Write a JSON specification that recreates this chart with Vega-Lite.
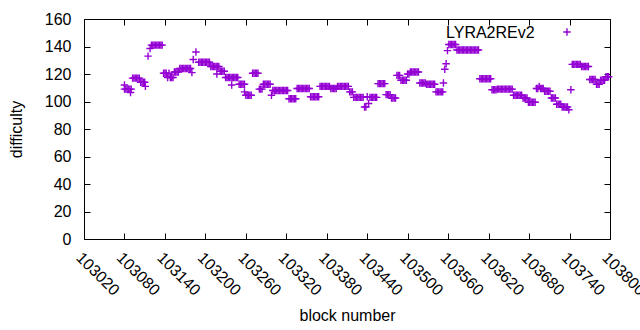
{
"$schema": "https://vega.github.io/schema/vega-lite/v6.json",
"width": 526, "height": 220,
"autosize": {"type": "none"},
"padding": {"left": 84, "top": 19, "right": 30, "bottom": 91},
"background": "white",
"config": {"font": "Liberation Sans", "view": {"stroke": "black", "strokeWidth": 1}},
"data": {"values": [
{"block":103080,"diff":112},{"block":103080,"diff":109},{"block":103082,"diff":109},{"block":103084,"diff":109},{"block":103086,"diff":109},{"block":103088,"diff":109},{"block":103090,"diff":109},{"block":103089,"diff":106.5},
{"block":103092,"diff":117},{"block":103094,"diff":117},{"block":103096,"diff":117},{"block":103098,"diff":117},{"block":103100,"diff":117},{"block":103102,"diff":117},
{"block":103104,"diff":114},{"block":103106,"diff":114},{"block":103108,"diff":114},{"block":103110,"diff":114},{"block":103111,"diff":111},{"block":103115,"diff":133},{"block":103118,"diff":138.5},
{"block":103120,"diff":141},{"block":103122,"diff":141},{"block":103124,"diff":141},{"block":103126,"diff":141},{"block":103128,"diff":141},{"block":103130,"diff":141},{"block":103132,"diff":141},{"block":103134,"diff":141},{"block":103136,"diff":141},
{"block":103138,"diff":120.5},{"block":103140,"diff":120.5},{"block":103142,"diff":120.5},{"block":103146,"diff":120.5},
{"block":103144,"diff":117.5},{"block":103148,"diff":117.5},{"block":103150,"diff":117.5},{"block":103152,"diff":117.5},
{"block":103154,"diff":121.5},{"block":103156,"diff":121.5},{"block":103158,"diff":121.5},{"block":103160,"diff":121.5},
{"block":103162,"diff":124},{"block":103164,"diff":124},{"block":103166,"diff":124},{"block":103168,"diff":124},{"block":103170,"diff":124},{"block":103172,"diff":124},{"block":103174,"diff":124},{"block":103176,"diff":124},{"block":103178,"diff":124},
{"block":103180,"diff":121},{"block":103182,"diff":130.5},{"block":103186,"diff":136},
{"block":103190,"diff":128.5},{"block":103192,"diff":128.5},{"block":103194,"diff":128.5},{"block":103196,"diff":128.5},{"block":103198,"diff":128.5},{"block":103200,"diff":128.5},{"block":103202,"diff":128.5},{"block":103204,"diff":128.5},{"block":103206,"diff":128.5},
{"block":103208,"diff":125.5},{"block":103210,"diff":125.5},{"block":103212,"diff":125.5},{"block":103214,"diff":125.5},{"block":103216,"diff":125.5},{"block":103218,"diff":125.5},{"block":103220,"diff":125.5},{"block":103217,"diff":120},
{"block":103222,"diff":122},{"block":103224,"diff":122},{"block":103226,"diff":122},{"block":103228,"diff":122},
{"block":103230,"diff":117.5},{"block":103232,"diff":117.5},{"block":103234,"diff":117.5},{"block":103236,"diff":117.5},{"block":103238,"diff":117.5},{"block":103239,"diff":112},
{"block":103240,"diff":117.5},{"block":103242,"diff":117.5},{"block":103244,"diff":117.5},{"block":103246,"diff":117.5},{"block":103248,"diff":117.5},
{"block":103250,"diff":112.5},{"block":103252,"diff":112.5},{"block":103254,"diff":112.5},{"block":103256,"diff":112.5},{"block":103258,"diff":112.5},{"block":103258,"diff":107},
{"block":103260,"diff":104.5},{"block":103262,"diff":104.5},{"block":103264,"diff":104.5},{"block":103266,"diff":104.5},{"block":103268,"diff":104.5},
{"block":103270,"diff":120.5},{"block":103272,"diff":120.5},{"block":103274,"diff":120.5},{"block":103276,"diff":120.5},{"block":103278,"diff":120.5},
{"block":103280,"diff":109},{"block":103282,"diff":109},{"block":103284,"diff":109},
{"block":103286,"diff":112.5},{"block":103288,"diff":112.5},{"block":103290,"diff":112.5},{"block":103292,"diff":112.5},{"block":103294,"diff":112.5},{"block":103296,"diff":112.5},
{"block":103298,"diff":104.5},
{"block":103300,"diff":108},{"block":103302,"diff":108},{"block":103304,"diff":108},{"block":103306,"diff":108},{"block":103308,"diff":108},{"block":103310,"diff":108},{"block":103312,"diff":108},{"block":103314,"diff":108},{"block":103316,"diff":108},{"block":103318,"diff":108},{"block":103320,"diff":108},{"block":103322,"diff":108},
{"block":103324,"diff":102},{"block":103326,"diff":102},{"block":103328,"diff":102},{"block":103330,"diff":102},{"block":103332,"diff":102},{"block":103334,"diff":102},
{"block":103336,"diff":109.5},{"block":103338,"diff":109.5},{"block":103340,"diff":109.5},{"block":103342,"diff":109.5},{"block":103344,"diff":109.5},{"block":103346,"diff":109.5},{"block":103348,"diff":109.5},{"block":103350,"diff":109.5},{"block":103352,"diff":109.5},{"block":103354,"diff":109.5},
{"block":103356,"diff":103.5},{"block":103358,"diff":103.5},{"block":103360,"diff":103.5},{"block":103362,"diff":103.5},{"block":103364,"diff":103.5},{"block":103366,"diff":103.5},{"block":103368,"diff":103.5},
{"block":103370,"diff":111},{"block":103372,"diff":111},{"block":103374,"diff":111},{"block":103376,"diff":111},{"block":103378,"diff":111},{"block":103380,"diff":111},{"block":103382,"diff":111},{"block":103384,"diff":111},
{"block":103386,"diff":109.5},{"block":103388,"diff":109.5},{"block":103390,"diff":109.5},{"block":103392,"diff":109.5},{"block":103394,"diff":109.5},
{"block":103396,"diff":111},{"block":103398,"diff":111},{"block":103400,"diff":111},{"block":103402,"diff":111},{"block":103404,"diff":111},{"block":103406,"diff":111},{"block":103408,"diff":111},{"block":103410,"diff":111},{"block":103412,"diff":111},
{"block":103414,"diff":107},{"block":103416,"diff":107},{"block":103418,"diff":107},
{"block":103420,"diff":103},{"block":103422,"diff":103},{"block":103424,"diff":103},{"block":103426,"diff":103},{"block":103428,"diff":103},{"block":103430,"diff":103},{"block":103432,"diff":103},{"block":103434,"diff":103},
{"block":103436,"diff":96},{"block":103438,"diff":96},{"block":103440,"diff":103.5},{"block":103442,"diff":98.5},
{"block":103444,"diff":103},{"block":103446,"diff":103},{"block":103448,"diff":103},{"block":103450,"diff":103},{"block":103452,"diff":103},{"block":103454,"diff":103},
{"block":103456,"diff":113},{"block":103458,"diff":113},{"block":103460,"diff":113},{"block":103462,"diff":113},{"block":103464,"diff":113},{"block":103466,"diff":113},
{"block":103468,"diff":105},{"block":103470,"diff":105},{"block":103472,"diff":105},{"block":103474,"diff":105},
{"block":103476,"diff":102.5},{"block":103478,"diff":102.5},{"block":103480,"diff":102.5},{"block":103482,"diff":102.5},
{"block":103484,"diff":119},{"block":103486,"diff":119},{"block":103488,"diff":119},
{"block":103490,"diff":115.5},{"block":103492,"diff":115.5},{"block":103494,"diff":115.5},{"block":103496,"diff":115.5},{"block":103498,"diff":115.5},
{"block":103500,"diff":120},{"block":103502,"diff":120},
{"block":103504,"diff":121.5},{"block":103506,"diff":121.5},{"block":103508,"diff":121.5},{"block":103510,"diff":121.5},{"block":103512,"diff":121.5},{"block":103514,"diff":121.5},{"block":103516,"diff":121.5},
{"block":103518,"diff":113.5},{"block":103520,"diff":113.5},{"block":103522,"diff":113.5},{"block":103524,"diff":113.5},{"block":103526,"diff":113.5},
{"block":103528,"diff":112.5},{"block":103530,"diff":112.5},{"block":103532,"diff":112.5},{"block":103534,"diff":112.5},{"block":103536,"diff":112.5},{"block":103538,"diff":112.5},{"block":103540,"diff":112.5},
{"block":103542,"diff":107},{"block":103544,"diff":107},{"block":103546,"diff":107},{"block":103548,"diff":107},{"block":103550,"diff":107},{"block":103552,"diff":107},
{"block":103553,"diff":113.5},{"block":103555,"diff":123.5},{"block":103557,"diff":127.5},{"block":103559,"diff":137},
{"block":103561,"diff":141.5},{"block":103563,"diff":141.5},{"block":103565,"diff":141.5},{"block":103567,"diff":141.5},{"block":103569,"diff":141.5},{"block":103571,"diff":141.5},
{"block":103573,"diff":137.5},{"block":103575,"diff":137.5},{"block":103577,"diff":137.5},{"block":103579,"diff":137.5},{"block":103581,"diff":137.5},{"block":103583,"diff":137.5},{"block":103585,"diff":137.5},{"block":103587,"diff":137.5},{"block":103589,"diff":137.5},{"block":103591,"diff":137.5},{"block":103593,"diff":137.5},{"block":103595,"diff":137.5},{"block":103597,"diff":137.5},{"block":103599,"diff":137.5},{"block":103601,"diff":137.5},{"block":103603,"diff":137.5},{"block":103605,"diff":137.5},
{"block":103607,"diff":116.5},{"block":103609,"diff":116.5},{"block":103611,"diff":116.5},{"block":103613,"diff":116.5},{"block":103615,"diff":116.5},{"block":103617,"diff":116.5},{"block":103619,"diff":116.5},{"block":103621,"diff":116.5},{"block":103623,"diff":116.5},
{"block":103625,"diff":108.5},{"block":103627,"diff":108.5},{"block":103629,"diff":108.5},{"block":103631,"diff":108.5},
{"block":103633,"diff":109},{"block":103635,"diff":109},{"block":103637,"diff":109},{"block":103639,"diff":109},{"block":103641,"diff":109},{"block":103643,"diff":109},{"block":103645,"diff":109},{"block":103647,"diff":109},{"block":103649,"diff":109},{"block":103651,"diff":109},{"block":103653,"diff":109},{"block":103655,"diff":109},
{"block":103657,"diff":104.5},{"block":103659,"diff":104.5},{"block":103661,"diff":104.5},{"block":103663,"diff":104.5},{"block":103665,"diff":104.5},{"block":103667,"diff":104.5},{"block":103669,"diff":104.5},
{"block":103671,"diff":102.5},{"block":103673,"diff":102.5},{"block":103675,"diff":102.5},{"block":103677,"diff":102.5},
{"block":103679,"diff":99.5},{"block":103681,"diff":99.5},{"block":103683,"diff":99.5},{"block":103685,"diff":99.5},{"block":103687,"diff":99.5},{"block":103689,"diff":99.5},
{"block":103691,"diff":109.5},{"block":103693,"diff":109.5},{"block":103695,"diff":111},{"block":103697,"diff":109.5},{"block":103699,"diff":109.5},{"block":103701,"diff":109.5},
{"block":103703,"diff":107.5},{"block":103705,"diff":107.5},{"block":103707,"diff":107.5},{"block":103709,"diff":107.5},{"block":103711,"diff":107.5},
{"block":103713,"diff":102.5},{"block":103715,"diff":102.5},{"block":103717,"diff":102.5},{"block":103719,"diff":102.5},
{"block":103721,"diff":98},{"block":103723,"diff":98},{"block":103725,"diff":98},{"block":103727,"diff":98},
{"block":103729,"diff":96},{"block":103731,"diff":96},{"block":103733,"diff":96},{"block":103735,"diff":96},{"block":103737,"diff":96},
{"block":103739,"diff":94},{"block":103742,"diff":108.5},
{"block":103744,"diff":127},{"block":103746,"diff":127},{"block":103748,"diff":127},{"block":103750,"diff":127},{"block":103752,"diff":127},{"block":103754,"diff":127},{"block":103756,"diff":127},
{"block":103758,"diff":125.5},{"block":103760,"diff":125.5},{"block":103762,"diff":125.5},{"block":103764,"diff":125.5},{"block":103766,"diff":125.5},{"block":103768,"diff":125.5},
{"block":103770,"diff":116},{"block":103772,"diff":116},{"block":103774,"diff":116},{"block":103776,"diff":116},{"block":103778,"diff":116},
{"block":103780,"diff":112.5},{"block":103782,"diff":112.5},{"block":103784,"diff":112.5},
{"block":103786,"diff":115.5},{"block":103788,"diff":115.5},{"block":103790,"diff":115.5},{"block":103792,"diff":115.5},
{"block":103794,"diff":118},{"block":103796,"diff":118},{"block":103798,"diff":118}
]},
"layer": [
{
"mark": {"type": "point", "shape": "M-1,0H1M0,-1V1", "filled": false, "size": 56, "strokeWidth": 1.4, "opacity": 1},
"encoding": {
"x": {"field": "block", "type": "quantitative",
"scale": {"domain": [103020, 103800], "nice": false, "zero": false},
"axis": {"orient": "bottom", "title": "block number", "values": [103020,103080,103140,103200,103260,103320,103380,103440,103500,103560,103620,103680,103740,103800],
"format": "d", "grid": false, "domain": false, "tickSize": -6, "tickColor": "black", "labelAngle": 45, "labelAlign": "left", "labelBaseline": "top", "labelPadding": 16,
"labelFontSize": 16, "labelColor": "black", "titleFontSize": 16, "titleFontWeight": "normal", "titleColor": "black", "titlePadding": 9, "labelFlush": false, "labelOverlap": false}},
"y": {"field": "diff", "type": "quantitative",
"scale": {"domain": [0, 160], "nice": false},
"axis": {"orient": "left", "title": "difficulty", "values": [0,20,40,60,80,100,120,140,160], "grid": false, "domain": false, "tickSize": -6, "tickColor": "black",
"labelPadding": 19, "labelFontSize": 16, "labelColor": "black", "titleFontSize": 16, "titleFontWeight": "normal", "titleColor": "black", "titlePadding": 20}},
"color": {"datum": "LYRA2REv2", "type": "nominal", "scale": {"range": ["#9400d3"]},
"legend": {"orient": "none", "legendX": 362, "legendY": 8, "title": "LYRA2REv2", "titleOrient": "left", "titleFontSize": 16, "titleFontWeight": "normal", "titleColor": "black", "titlePadding": 27,
"labelExpr": "''", "symbolType": "M-1,0H1M0,-1V1", "symbolSize": 56, "symbolStrokeWidth": 1.4, "symbolFillColor": "transparent", "symbolStrokeColor": "#9400d3"}}
}
},
{
"mark": {"type": "point", "opacity": 0},
"encoding": {
"x": {"field": "block", "type": "quantitative", "axis": {"orient": "top", "title": null, "labels": false, "grid": false, "domain": false, "tickSize": -6, "tickColor": "black", "values": [103020,103080,103140,103200,103260,103320,103380,103440,103500,103560,103620,103680,103740,103800]}},
"y": {"field": "diff", "type": "quantitative", "axis": {"orient": "right", "title": null, "labels": false, "grid": false, "domain": false, "tickSize": -6, "tickColor": "black", "values": [0,20,40,60,80,100,120,140,160]}}
}
}
],
"resolve": {"axis": {"x": "independent", "y": "independent"}}
}
